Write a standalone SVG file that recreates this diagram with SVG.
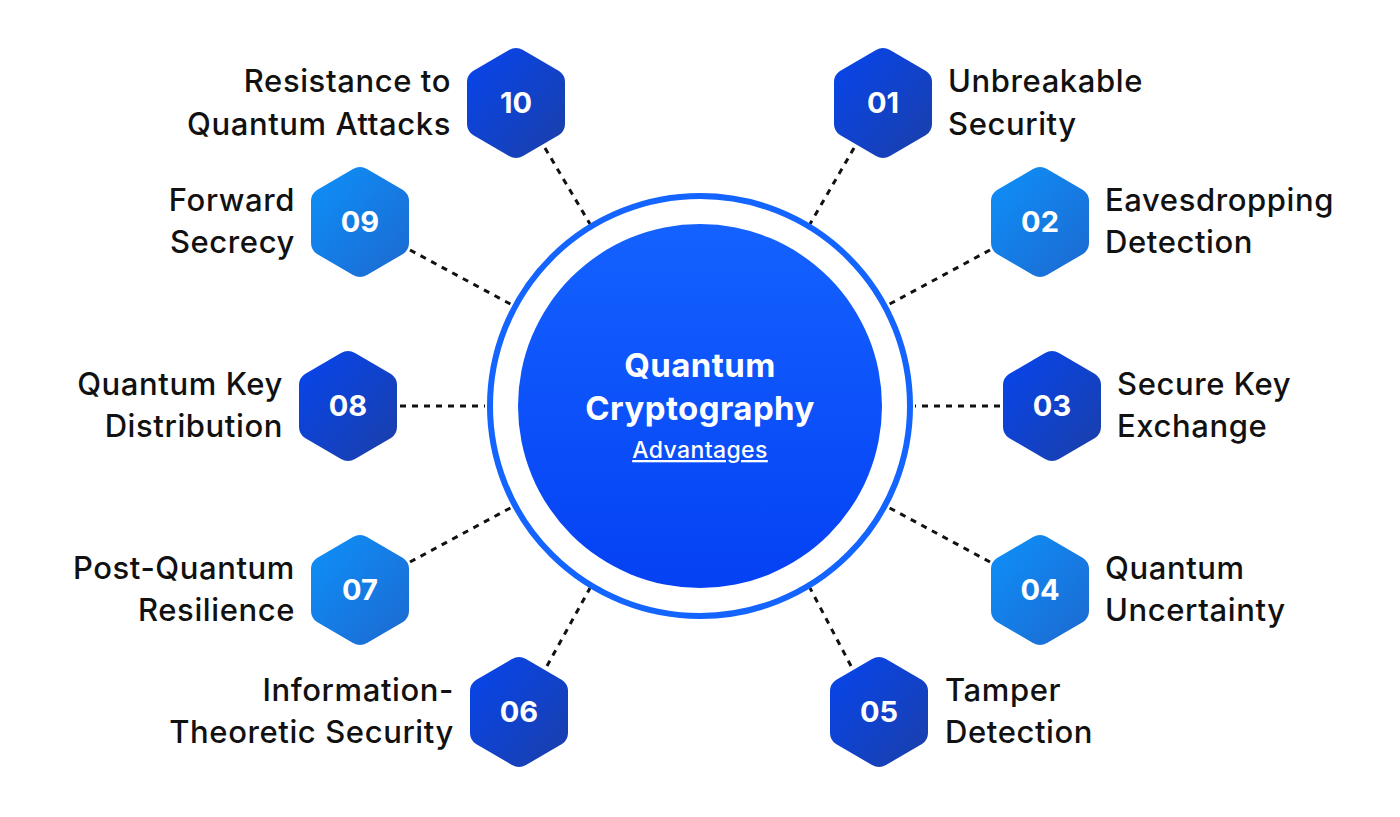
<svg xmlns="http://www.w3.org/2000/svg" width="1400" height="817" viewBox="0 0 1400 817">
<defs>
<linearGradient id="dk" x1="0" y1="0" x2="1" y2="1"><stop offset="0" stop-color="#0645ee"/><stop offset="1" stop-color="#1b3fa8"/></linearGradient>
<linearGradient id="lt" x1="0" y1="0" x2="1" y2="1"><stop offset="0" stop-color="#0e90fa"/><stop offset="1" stop-color="#1c69cf"/></linearGradient>
<linearGradient id="cg" x1="0" y1="0" x2="0" y2="1"><stop offset="0" stop-color="#1462ff"/><stop offset="1" stop-color="#0441f4"/></linearGradient>
<path id="hx" d="M-7,-53 Q0,-57 7,-53 L43,-32 Q49,-28 49,-21 L49,21 Q49,28 43,32 L7,53 Q0,57 -7,53 L-43,32 Q-49,28 -49,21 L-49,-21 Q-49,-28 -43,-32 Z"/>
</defs>
<style>
.lb{font-family:Inter,"Open Sans",sans-serif;font-weight:500;font-size:31px;letter-spacing:0.6px;fill:#111}
.r{text-anchor:end}
.n{font-family:Inter,"Open Sans",sans-serif;font-weight:700;font-size:29px;fill:#fff;text-anchor:middle}
.c{stroke:#111;stroke-width:3;stroke-dasharray:6 6;fill:none}
</style>
<rect width="1400" height="817" fill="#fff"/>
<g id="connectors">
<line class="c" x1="545" y1="148" x2="590" y2="224"/>
<line class="c" x1="854" y1="148" x2="810" y2="224"/>
<line class="c" x1="990" y1="250" x2="886" y2="306"/>
<line class="c" x1="410" y1="250" x2="514" y2="306"/>
<line class="c" x1="1000" y1="406" x2="915" y2="406"/>
<line class="c" x1="400" y1="406" x2="485" y2="406"/>
<line class="c" x1="990" y1="562" x2="886" y2="506"/>
<line class="c" x1="410" y1="562" x2="514" y2="506"/>
<line class="c" x1="851" y1="666" x2="810" y2="588"/>
<line class="c" x1="547" y1="666" x2="590" y2="588"/>
</g>
<g id="center">
<circle cx="700" cy="406" r="210" fill="none" stroke="#1464ff" stroke-width="6"/>
<circle cx="700" cy="406" r="182" fill="url(#cg)"/>
<text x="700" y="377" class="n" font-size="33" style="font-size:33px;letter-spacing:0.4px">Quantum</text>
<text x="700" y="420" class="n" style="font-size:33px;letter-spacing:0.4px">Cryptography</text>
<text x="700" y="458" font-family="Inter,sans-serif" font-weight="500" font-size="23" letter-spacing="0.4" fill="#fff" text-anchor="middle" text-decoration="underline">Advantages</text>
</g>
<g id="n10"><use href="#hx" x="516" y="103" fill="url(#dk)"/><text x="516" y="113" class="n">10</text><text x="451" y="92" class="lb r">Resistance to</text><text x="451" y="135" class="lb r">Quantum Attacks</text></g>
<g id="n01"><use href="#hx" x="883" y="103" fill="url(#dk)"/><text x="883" y="113" class="n">01</text><text x="948" y="92" class="lb">Unbreakable</text><text x="948" y="135" class="lb">Security</text></g>
<g id="n02"><use href="#hx" x="1040" y="222" fill="url(#lt)"/><text x="1040" y="232" class="n">02</text><text x="1105" y="211" class="lb">Eavesdropping</text><text x="1105" y="253" class="lb">Detection</text></g>
<g id="n09"><use href="#hx" x="360" y="222" fill="url(#lt)"/><text x="360" y="232" class="n">09</text><text x="295" y="211" class="lb r">Forward</text><text x="295" y="253" class="lb r">Secrecy</text></g>
<g id="n03"><use href="#hx" x="1052" y="406" fill="url(#dk)"/><text x="1052" y="416" class="n">03</text><text x="1117" y="395" class="lb">Secure Key</text><text x="1117" y="437" class="lb">Exchange</text></g>
<g id="n08"><use href="#hx" x="348" y="406" fill="url(#dk)"/><text x="348" y="416" class="n">08</text><text x="283" y="395" class="lb r">Quantum Key</text><text x="283" y="437" class="lb r">Distribution</text></g>
<g id="n04"><use href="#hx" x="1040" y="590" fill="url(#lt)"/><text x="1040" y="600" class="n">04</text><text x="1105" y="579" class="lb">Quantum</text><text x="1105" y="621" class="lb">Uncertainty</text></g>
<g id="n07"><use href="#hx" x="360" y="590" fill="url(#lt)"/><text x="360" y="600" class="n">07</text><text x="295" y="579" class="lb r">Post-Quantum</text><text x="295" y="621" class="lb r">Resilience</text></g>
<g id="n05"><use href="#hx" x="879" y="712" fill="url(#dk)"/><text x="879" y="722" class="n">05</text><text x="945" y="701" class="lb">Tamper</text><text x="945" y="743" class="lb">Detection</text></g>
<g id="n06"><use href="#hx" x="519" y="712" fill="url(#dk)"/><text x="519" y="722" class="n">06</text><text x="454" y="701" class="lb r">Information-</text><text x="454" y="743" class="lb r">Theoretic Security</text></g>
</svg>
